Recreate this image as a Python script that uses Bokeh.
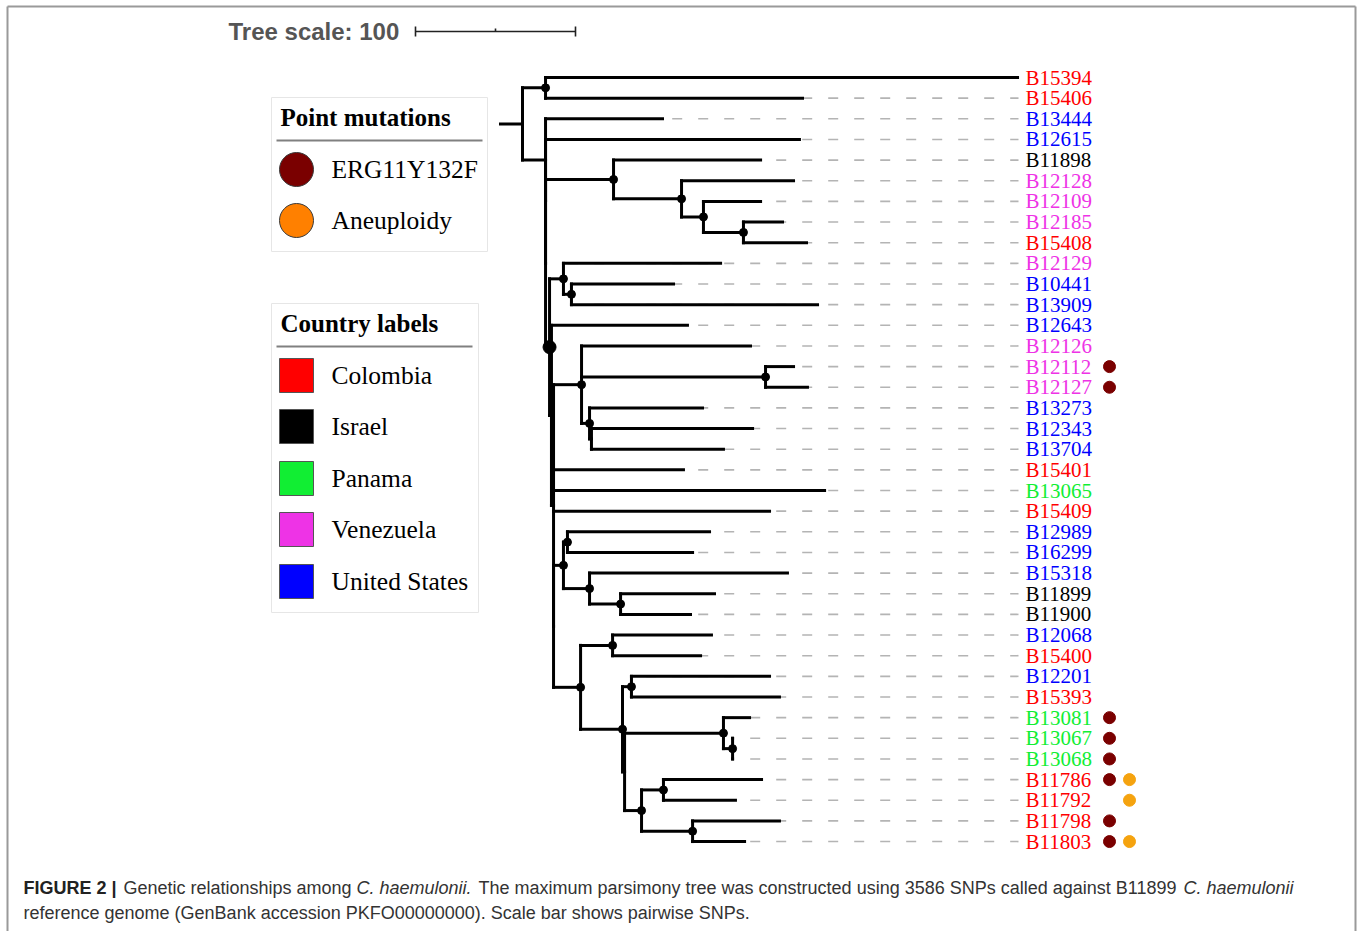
import math
from bokeh.plotting import figure
from bokeh.models import Range1d, Label
from bokeh.core.properties import value
from bokeh.embed import file_html
from bokeh.resources import INLINE

# ---------------- data ----------------
leaf_names = ["B15394", "B15406", "B13444", "B12615", "B11898", "B12128", "B12109", "B12185",
              "B15408", "B12129", "B10441", "B13909", "B12643", "B12126", "B12112", "B12127",
              "B13273", "B12343", "B13704", "B15401", "B13065", "B15409", "B12989", "B16299",
              "B15318", "B11899", "B11900", "B12068", "B15400", "B12201", "B15393", "B13081",
              "B13067", "B13068", "B11786", "B11792", "B11798", "B11803"]
leaf_country = ["Colombia", "Colombia", "United States", "United States", "Israel", "Venezuela",
                "Venezuela", "Venezuela", "Colombia", "Venezuela", "United States", "United States",
                "United States", "Venezuela", "Venezuela", "Venezuela", "United States",
                "United States", "United States", "Colombia", "Panama", "Colombia",
                "United States", "United States", "United States", "Israel", "Israel",
                "United States", "Colombia", "United States", "Colombia", "Panama", "Panama",
                "Panama", "Colombia", "Colombia", "Colombia", "Colombia"]
leaf_parent = ["T", "T", "A", "A2", "C1", "C1a", "C1b", "C1c", "C1c", "N2", "N3", "N3", "A5",
               "C2", "C2a", "C2a", "C2b", "C2c", "C2c", "A6", "A6", "A6", "C3a", "C3a", "C3b",
               "C3c", "C3c", "C4a", "C4a", "C4b", "C4b", "C4c", "C4d", "C4d", "C4f", "C4f",
               "C4g", "C4g"]
# distance from root (SNPs)
leaf_snps = [309.4, 175.0, 87.5, 173.1, 148.8, 169.4, 148.8, 162.5, 177.5, 123.8, 94.4, 184.4,
             103.1, 142.5, 169.4, 178.1, 112.5, 143.8, 125.6, 100.6, 188.8, 154.4, 116.9, 106.3,
             165.6, 120.0, 105.0, 118.1, 111.3, 154.4, 160.6, 141.9, 131.3, 131.3, 149.4, 133.1,
             160.6, 138.8]

node_names = ["R", "T", "A", "A2", "A3", "C1", "C1a", "C1b", "C1c", "A4", "N2", "N3", "A5", "A6",
              "C2", "C2a", "C2b", "C2c", "A7", "C3", "C3a", "C3b", "C3c", "C4", "C4a", "P1",
              "C4b", "P2", "C4c", "C4d", "C4e", "C4f", "C4g"]
node_parent = [None, "R", "R", "A", "A2", "A3", "C1", "C1a", "C1b", "A3", "A4", "N2", "A4", "A5",
               "A6", "C2", "C2", "C2b", "A6", "A7", "C3", "C3", "C3b", "A7", "C4", "C4", "P1",
               "P1", "P2", "C4c", "P2", "C4e", "C4e"]
node_snps = [0.0, 14.4, 14.4, 14.4, 14.4, 56.9, 99.4, 113.1, 138.1, 16.9, 25.6, 30.6, 18.1, 19.4,
             36.9, 151.9, 41.9, 43.1, 19.4, 25.6, 28.1, 41.9, 61.3, 36.3, 56.3, 62.5, 68.1, 63.8,
             125.6, 131.3, 74.4, 88.1, 106.3]
node_support = [0, 1, 0, 0, 0, 1, 1, 1, 1, 2, 1, 1, 0, 0, 1, 1, 1, 0, 0, 1, 1, 1, 1, 1, 1, 1, 1,
                0, 1, 1, 1, 1, 1]

root_branch = 13.75
scale_snps = 100

erg11_leaves = ["B12112", "B12127", "B13081", "B13067", "B13068", "B11786", "B11798", "B11803"]
aneuploidy_leaves = ["B11786", "B11792", "B11803"]

countries = ["Colombia", "Israel", "Panama", "Venezuela", "United States"]
country_colors = ["#ff0000", "#000000", "#11ee33", "#ee33e6", "#0000ff"]
mutation_labels = ["ERG11Y132F", "Aneuploidy"]
mutation_colors = ["#7a0000", "#ff8000"]

# ------------- page-pixel helpers (layout only) -------------
PX_PER_SNP = 1.6
PX_PER_LEAF = 20.65
ROOT_PX = 522
TOP_LEAF_PX = 77
W, H = 1358, 931


def X(px):
    return (px - ROOT_PX) / PX_PER_SNP


def Y(py):
    return (py - TOP_LEAF_PX) / PX_PER_LEAF


# ------------- tree geometry -------------
xpos = {}
ypos = {}
parent = {}
children = {n: [] for n in node_names}
for i, (n, par, d) in enumerate(zip(leaf_names, leaf_parent, leaf_snps)):
    xpos[n] = d
    ypos[n] = i
    parent[n] = par
    children[par].append(n)
for n, par, d in zip(node_names, node_parent, node_snps):
    xpos[n] = d
    parent[n] = par
    if par is not None:
        children[par].append(n)


def get_y(n):
    if n in ypos:
        return ypos[n]
    ys = [get_y(c) for c in children[n]]
    ypos[n] = (min(ys) + max(ys)) / 2
    return ypos[n]


get_y("R")

hx0, hx1, hy = [], [], []
for n in leaf_names + node_names:
    par = parent[n]
    if par is None:
        continue
    hx0.append(xpos[par])
    hx1.append(xpos[n])
    hy.append(ypos[n])
# root branch
hx0.append(xpos["R"] - root_branch)
hx1.append(xpos["R"])
hy.append(ypos["R"])

vx, vy0, vy1 = [], [], []
for n in node_names:
    ys = [ypos[c] for c in children[n]]
    vx.append(xpos[n])
    vy0.append(min(ys))
    vy1.append(max(ys))

# dashed guide lines, aligned on a common grid
period = 26 / PX_PER_SNP
g0 = X(671.7)
dash_end = X(1018)
dx0, dx1, dy = [], [], []
for n in leaf_names:
    px = xpos[parent[n]]
    start = g0 + period * math.ceil((px - g0) / period)
    if start < dash_end:
        dx0.append(start)
        dx1.append(dash_end)
        dy.append(ypos[n])

p = figure(width=W, height=H, x_range=Range1d(X(0), X(W)),
           y_range=Range1d(Y(H), Y(0)), output_backend="svg", toolbar_location=None,
           x_axis_location=None, y_axis_location=None, min_border=0)
p.grid.visible = False
p.outline_line_color = None
p.background_fill_color = "white"

# frame around figure
p.segment(x0=[X(7), X(7), X(1355)], y0=[Y(6), Y(6), Y(6)],
          x1=[X(7), X(1355), X(1355)], y1=[Y(960), Y(6), Y(960)],
          line_color="#9a9a9a", line_width=2)

p.segment(x0=dx0, y0=dy, x1=dx1, y1=dy, line_color="#b4b4b4", line_width=1.6,
          line_dash="10 16")
p.segment(x0=hx0, y0=hy, x1=hx1, y1=hy, line_color="black", line_width=3, line_cap="square")
p.segment(x0=vx, y0=vy0, x1=vx, y1=vy1, line_color="black", line_width=3, line_cap="square")

dot_x = [xpos[n] for n, s in zip(node_names, node_support) if s > 0]
dot_y = [ypos[n] for n, s in zip(node_names, node_support) if s > 0]
dot_s = [8 if s == 1 else 13 for s in node_support if s > 0]
p.scatter(dot_x, dot_y, size=dot_s, color="black")

# tip labels
cmap = dict(zip(countries, country_colors))
p.text(x=[X(1025)] * len(leaf_names), y=list(range(len(leaf_names))), text=leaf_names,
       text_color=[cmap[c] for c in leaf_country], text_font=value("Liberation Serif"),
       text_font_size=value("21px"), text_baseline="middle", text_align="left")

# mutation markers
p.scatter([X(1109)] * len(erg11_leaves), [leaf_names.index(n) for n in erg11_leaves],
          size=12, color="#7a0000")
p.scatter([X(1129)] * len(aneuploidy_leaves), [leaf_names.index(n) for n in aneuploidy_leaves],
          size=12, color="#f5a30f")

# tree scale
p.add_layout(Label(x=X(228), y=Y(31), text="Tree scale: 100", text_font="Liberation Sans",
                   text_font_style="bold", text_font_size="24px", text_color="#555555",
                   text_baseline="middle"))
sx0 = X(415)
p.segment(x0=[sx0, sx0, sx0 + scale_snps, sx0 + scale_snps / 2],
          y0=[Y(31), Y(26), Y(26), Y(28)],
          x1=[sx0 + scale_snps, sx0, sx0 + scale_snps, sx0 + scale_snps / 2],
          y1=[Y(31), Y(36), Y(36), Y(31)], line_color="#222222", line_width=1.6)

# legend boxes
p.quad(left=[X(271), X(271)], right=[X(487), X(478)], top=[Y(97), Y(303)],
       bottom=[Y(251), Y(612)], fill_color="white", line_color="#e6e6e6", line_width=1)
p.segment(x0=[X(276), X(276)], y0=[Y(140), Y(346)], x1=[X(482), X(472)], y1=[Y(140), Y(346)],
          line_color="#808080", line_width=1.8)
for title, ty in [("Point mutations", 117), ("Country labels", 323)]:
    p.add_layout(Label(x=X(280), y=Y(ty), text=title, text_font="Liberation Serif",
                       text_font_style="bold", text_font_size="25px", text_color="black",
                       text_baseline="middle"))
m_y = [169, 220]
p.scatter([X(296)] * 2, [Y(v) for v in m_y], size=34, fill_color=mutation_colors,
          line_color="#3a3a3a", line_width=1)
for lab, v in zip(mutation_labels, m_y):
    p.add_layout(Label(x=X(331), y=Y(v), text=lab, text_font="Liberation Serif",
                       text_font_size="25.5px", text_color="black", text_baseline="middle"))
c_y = [375, 426, 478, 529, 581]
p.scatter([X(296)] * 5, [Y(v) for v in c_y], marker="square", size=34,
          fill_color=country_colors, line_color="#555555", line_width=1)
for lab, v in zip(countries, c_y):
    p.add_layout(Label(x=X(331), y=Y(v), text=lab, text_font="Liberation Serif",
                       text_font_size="25.5px", text_color="black", text_baseline="middle"))

# caption
cap = [("FIGURE 2 |", "bold", 23, 887),
       ("Genetic relationships among", "normal", 123, 887),
       ("C. haemulonii.", "italic", 356, 887),
       ("The maximum parsimony tree was constructed using 3586 SNPs called against B11899",
        "normal", 478, 887),
       ("C. haemulonii", "italic", 1183, 887),
       ("reference genome (GenBank accession PKFO00000000). Scale bar shows pairwise SNPs.",
        "normal", 23, 912)]
for txt, style, cx, cy in cap:
    p.add_layout(Label(x=X(cx), y=Y(cy), text=txt, text_font="Liberation Sans",
                       text_font_style=style, text_font_size="18px",
                       text_color="#222222" if style == "bold" else "#333333",
                       text_baseline="middle"))

open("out.html", "w").write(file_html(p, INLINE))
